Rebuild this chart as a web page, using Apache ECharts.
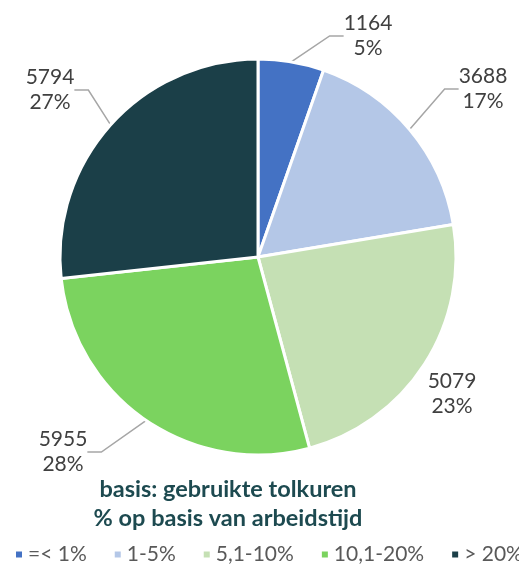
<!DOCTYPE html>
<html>
<head>
<meta charset="utf-8">
<script src="https://cdn.jsdelivr.net/npm/echarts@6/dist/echarts.min.js"></script>
<style>
  html, body { margin: 0; padding: 0; background: #fff; }
  #main { width: 519px; height: 565px; }
</style>
</head>
<body>
<div id="main"></div>
<script>
var categories = ['=< 1%', '1-5%', '5,1-10%', '10,1-20%', '> 20%'];
var values = [1164, 3688, 5079, 5955, 5794];
var percents = ['5%', '17%', '23%', '28%', '27%'];
var colors = ['#4472C4', '#B4C7E7', '#C5E0B4', '#7BD35F', '#1B3F48'];

// label centres and leader line visibility (layout only)
var labelPos = [[368, 36], [483, 89], [452, 394], [63, 452], [50, 90]];
var showLine = [true, true, false, true, true];

var chart = echarts.init(document.getElementById('main'));

var pieData = [];
for (var i = 0; i < categories.length; i++) {
    pieData.push({
        name: categories[i],
        value: values[i],
        itemStyle: {color: colors[i]},
        labelLine: {show: showLine[i]}
    });
}

chart.setOption({
    title: {
        text: 'basis: gebruikte tolkuren\n% op basis van arbeidstijd',
        left: 223,
        top: 470,
        textAlign: 'center',
        textStyle: {
            fontFamily: 'Lato',
            fontSize: 23.5,
            fontWeight: 'bold',
            color: '#1D4A50',
            lineHeight: 29
        }
    },
    legend: {
        bottom: -5,
        left: 9,
        width: 560,
        icon: 'rect',
        itemWidth: 8,
        itemHeight: 8,
        itemGap: 26,
        textStyle: {fontFamily: 'Lato', fontSize: 21, color: '#595959'},
        data: categories
    },
    series: [{
        type: 'pie',
        center: [258, 257],
        radius: 198,
        startAngle: 90,
        clockwise: true,
        data: pieData,
        itemStyle: {borderColor: '#fff', borderWidth: 3},
        label: {
            show: true,
            position: 'outside',
            fontFamily: 'Lato',
            fontSize: 21,
            lineHeight: 25,
            color: '#404040',
            align: 'center',
            formatter: function (p) {
                return p.value + '\n' + percents[p.dataIndex];
            }
        },
        labelLine: {
            show: true,
            length: 14,
            length2: 14,
            lineStyle: {color: '#A6A6A6', width: 1.5}
        },
        labelLayout: function (p) {
            var pos = labelPos[p.dataIndex];
            return {x: pos[0], y: pos[1], align: 'center', verticalAlign: 'middle'};
        },
        emphasis: {disabled: true}
    }]
});
</script>
</body>
</html>
